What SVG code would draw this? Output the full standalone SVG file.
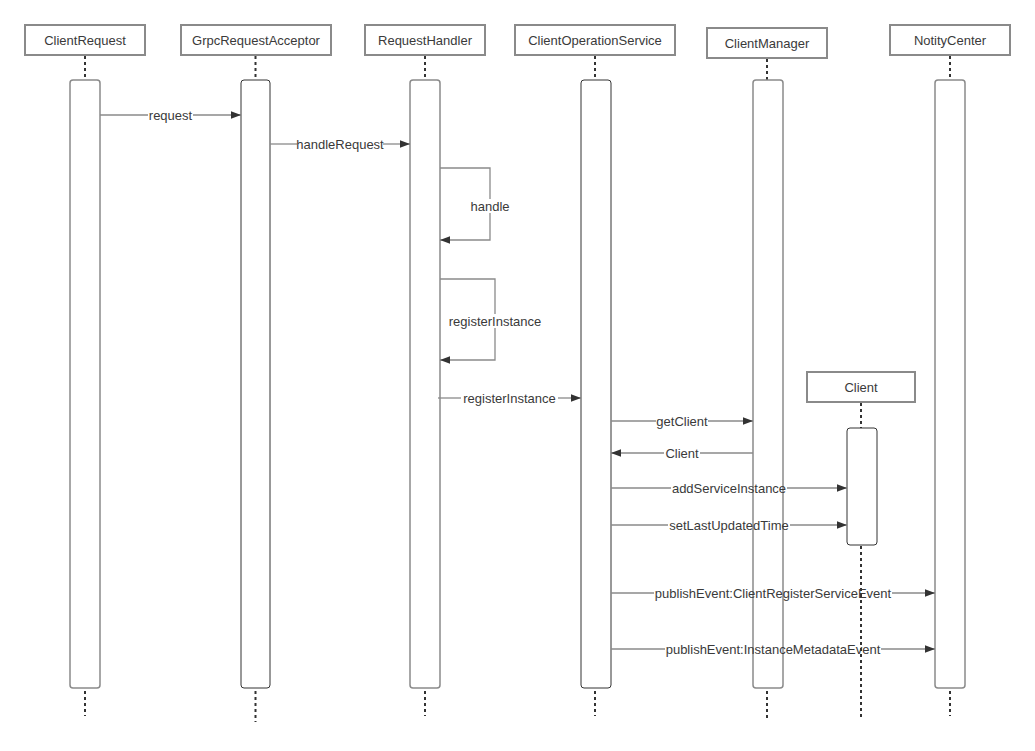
<svg xmlns="http://www.w3.org/2000/svg" width="1035" height="751" viewBox="0 0 1035 751">
<defs>
<style>
.hdr{fill:#fff;stroke:#8a8a8a;stroke-width:2}
.act{fill:#fff;stroke:#8a8a8a;stroke-width:1.5}
.actd{fill:#fff;stroke:#333;stroke-width:1}
.life{stroke:#333;stroke-width:2;stroke-dasharray:3 3;fill:none}
.ln{stroke:#8a8a8a;stroke-width:1.3;fill:none}
text{font-family:"Liberation Sans",Arial,sans-serif;font-size:13px;fill:#3a3a3a}
.c{text-anchor:middle}
</style>
<marker id="ah" markerUnits="userSpaceOnUse" markerWidth="12" markerHeight="10" viewBox="0 0 12 10" refX="10" refY="5" orient="auto">
<path d="M0,1.3 L10,5 L0,8.7 Z" fill="#333"/>
</marker>
</defs>
<rect width="1035" height="751" fill="#fff"/>

<g id="ClientRequest">
<rect class="hdr" x="25" y="25" width="120" height="30"/>
<text class="c" x="85" y="44.5">ClientRequest</text>
<line class="life" x1="85" y1="56" x2="85" y2="80"/>
<rect class="act" x="70" y="80" width="30" height="608" rx="3"/>
<line class="life" x1="85" y1="691" x2="85" y2="716"/>
</g>

<g id="GrpcRequestAcceptor">
<rect class="hdr" x="181" y="25" width="150" height="30"/>
<text class="c" x="256" y="44.5">GrpcRequestAcceptor</text>
<line class="life" x1="255.5" y1="56" x2="255.5" y2="80"/>
<rect class="actd" x="241" y="80" width="29" height="608" rx="3"/>
<line class="life" x1="255.5" y1="691" x2="255.5" y2="722"/>
</g>

<g id="RequestHandler">
<rect class="hdr" x="365" y="25" width="120" height="30"/>
<text class="c" x="425" y="44.5">RequestHandler</text>
<line class="life" x1="425" y1="56" x2="425" y2="80"/>
<rect class="act" x="410" y="80" width="30" height="608" rx="3"/>
<line class="life" x1="425" y1="691" x2="425" y2="716"/>
</g>

<g id="ClientOperationService">
<rect class="hdr" x="515" y="25" width="160" height="30"/>
<text class="c" x="595" y="44.5">ClientOperationService</text>
<line class="life" x1="595" y1="56" x2="595" y2="80"/>
<rect class="actd" x="581" y="80" width="30" height="608" rx="3"/>
<line class="life" x1="595" y1="691" x2="595" y2="716"/>
</g>

<g id="ClientManager">
<rect class="hdr" x="707" y="28" width="120" height="30"/>
<text class="c" x="767" y="47.5">ClientManager</text>
<line class="life" x1="767" y1="59" x2="767" y2="80"/>
<rect class="act" x="753" y="80" width="30" height="608" rx="3"/>
<line class="life" x1="767" y1="691" x2="767" y2="718"/>
</g>

<g id="NotityCenter">
<rect class="hdr" x="890" y="25" width="120" height="30"/>
<text class="c" x="950" y="44.5">NotityCenter</text>
<line class="life" x1="950" y1="56" x2="950" y2="80"/>
<rect class="act" x="935" y="80" width="30" height="608" rx="3"/>
<line class="life" x1="950" y1="691" x2="950" y2="716"/>
</g>

<g id="Client">
<rect class="hdr" x="807" y="372" width="108" height="30"/>
<text class="c" x="861" y="391.5">Client</text>
<line class="life" x1="861" y1="403" x2="861" y2="428"/>
<line class="life" x1="861" y1="546" x2="861" y2="719"/>
<rect class="actd" x="847" y="428" width="30" height="117" rx="3"/>
</g>

<g id="connectors">
<line class="ln" x1="100" y1="115" x2="148" y2="115"/>
<line class="ln" x1="193" y1="115" x2="241" y2="115" marker-end="url(#ah)"/>
<text class="c" x="170.5" y="119.5">request</text>

<line class="ln" x1="270" y1="144" x2="297" y2="144"/>
<line class="ln" x1="383" y1="144" x2="410" y2="144" marker-end="url(#ah)"/>
<text class="c" x="340" y="148.5">handleRequest</text>

<path class="ln" d="M440,168 H490 V199"/>
<path class="ln" d="M490,213 V240 H440" marker-end="url(#ah)"/>
<text class="c" x="490" y="210.5">handle</text>

<path class="ln" d="M440,279 H495 V314"/>
<path class="ln" d="M495,328 V360 H440" marker-end="url(#ah)"/>
<text class="c" x="495" y="325.5">registerInstance</text>

<line class="ln" x1="438" y1="398" x2="461" y2="398"/>
<line class="ln" x1="558" y1="398" x2="581" y2="398" marker-end="url(#ah)"/>
<text class="c" x="509.5" y="402.5">registerInstance</text>

<line class="ln" x1="611" y1="421" x2="656" y2="421"/>
<line class="ln" x1="708" y1="421" x2="753" y2="421" marker-end="url(#ah)"/>
<text class="c" x="682" y="425.5">getClient</text>

<line class="ln" x1="753" y1="453" x2="700" y2="453"/>
<line class="ln" x1="664" y1="453" x2="611" y2="453" marker-end="url(#ah)"/>
<text class="c" x="682" y="457.5">Client</text>

<line class="ln" x1="611" y1="488" x2="671" y2="488"/>
<line class="ln" x1="787" y1="488" x2="847" y2="488" marker-end="url(#ah)"/>
<text class="c" x="729" y="492.5">addServiceInstance</text>

<line class="ln" x1="611" y1="525" x2="668" y2="525"/>
<line class="ln" x1="790" y1="525" x2="847" y2="525" marker-end="url(#ah)"/>
<text class="c" x="729" y="529.5">setLastUpdatedTime</text>

<line class="ln" x1="611" y1="593" x2="654" y2="593"/>
<line class="ln" x1="892" y1="593" x2="935" y2="593" marker-end="url(#ah)"/>
<text class="c" x="773" y="597.5">publishEvent:ClientRegisterServiceEvent</text>

<line class="ln" x1="611" y1="649" x2="665" y2="649"/>
<line class="ln" x1="881" y1="649" x2="935" y2="649" marker-end="url(#ah)"/>
<text class="c" x="773" y="653.5">publishEvent:InstanceMetadataEvent</text>
</g>
</svg>
